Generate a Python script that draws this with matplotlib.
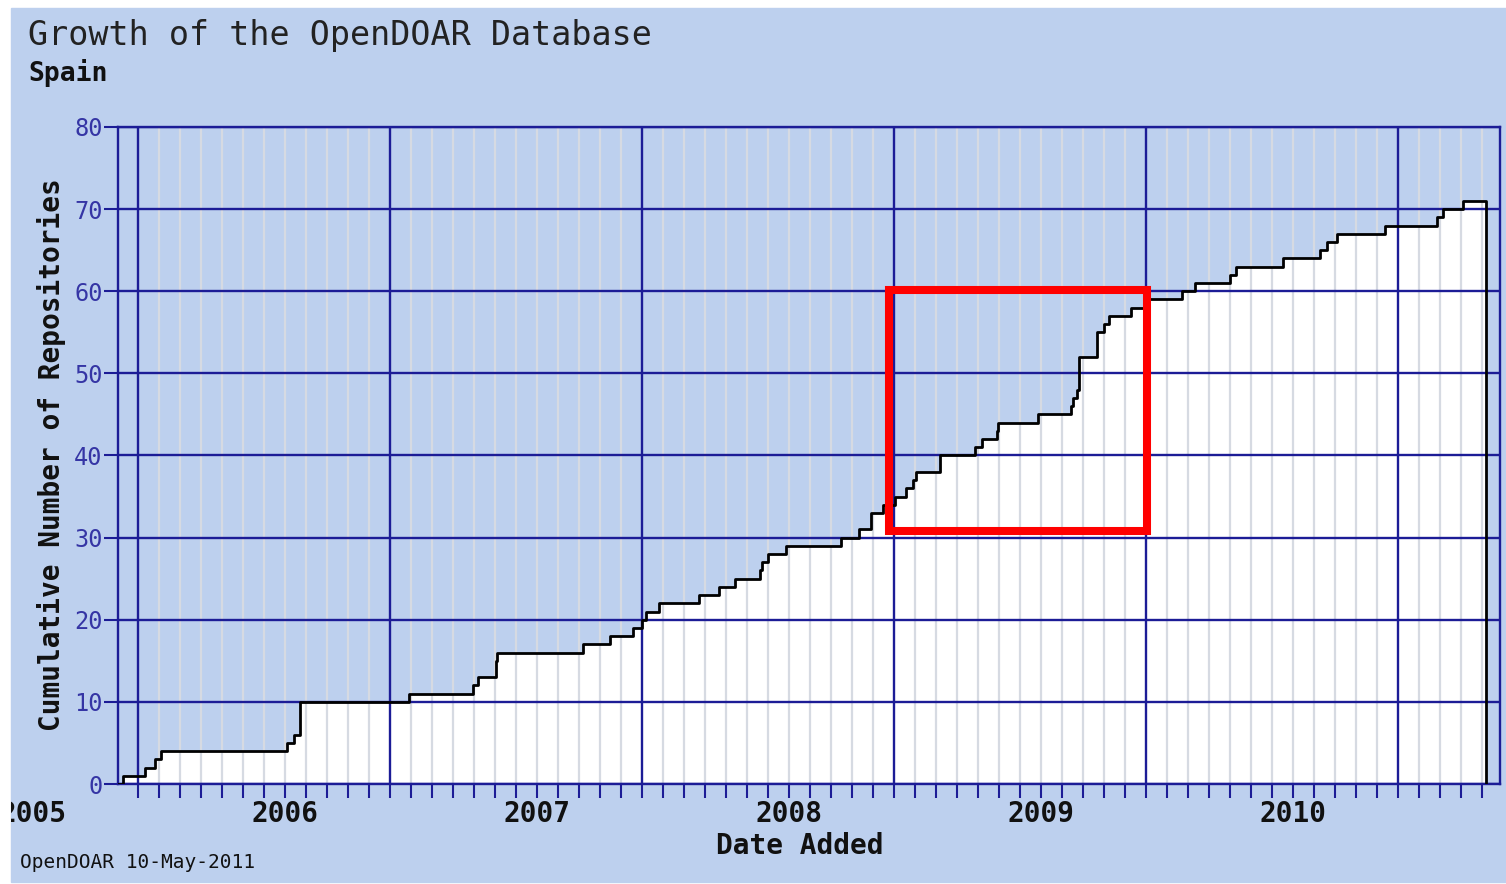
import matplotlib
matplotlib.use('Agg')
import matplotlib.pyplot as plt
import matplotlib.patches as mpatches
import matplotlib.transforms as mtransforms

plt.rcParams['font.family'] = 'DejaVu Sans Mono'

# months counted from Jan 2005, value = cumulative repositories after the step
step_month = [4.27, 5.33, 5.81, 6.10, 12.08, 12.45, 12.71, 17.92, 20.97, 21.17,
              22.05, 22.10, 26.20, 27.50, 28.59, 28.98, 29.19, 29.82, 31.73, 32.68,
              33.43, 34.62, 34.70, 35.00, 35.84, 38.50, 39.35, 39.90, 40.49, 41.05,
              41.57, 41.92, 42.05, 43.20, 44.86, 45.17, 45.89, 45.97, 47.87, 49.43,
              49.54, 49.70, 49.80, 50.68, 51.00, 51.25, 52.27, 53.10, 54.70, 55.33,
              57.00, 57.30, 59.50, 61.30, 61.60, 62.08, 64.38, 66.87, 67.13, 68.11]
step_count = [1, 2, 3, 4, 5, 6, 10, 11, 12, 13,
              15, 16, 17, 18, 19, 20, 21, 22, 23, 24,
              25, 26, 27, 28, 29, 30, 31, 33, 34, 35,
              36, 37, 38, 40, 41, 42, 43, 44, 45, 46,
              47, 48, 52, 55, 56, 57, 58, 59, 60, 61,
              62, 63, 64, 65, 66, 67, 68, 69, 70, 71]
end_month = 69.19

year_labels = ['2005', '2006', '2007', '2008', '2009', '2010']
year_month = [0, 12, 24, 36, 48, 60]
major_month = [5, 17, 29, 41, 53, 65]
y_ticks = [0, 10, 20, 30, 40, 50, 60, 70, 80]

# highlighted region (red box)
box_x = [40.76, 53.07]
box_y = [30.8, 60.15]

bg = '#BDD0EE'
navy = '#1C1C96'

fig = plt.figure(figsize=(15.06, 8.84), dpi=100, facecolor='white')
panel = mpatches.Rectangle((11/1506, 2/884), 1, 1 - 10/884,
                           transform=fig.transFigure, color=bg, zorder=-10)
fig.patches.append(panel)
panel_box = mtransforms.TransformedBbox(
    mtransforms.Bbox.from_bounds(11/1506, 2/884, 1, 1 - 10/884), fig.transFigure)

ax = fig.add_axes([118/1506, 1 - 784/884, (1500 - 118)/1506, (784 - 127)/884])
ax.set_facecolor(bg)
ax.set_xlim(4.048, 69.857)
ax.set_ylim(0, 80)

xs = [4.048] + step_month + [end_month]
ys = [0] + step_count + [0]
ax.fill_between(xs, ys, step='post', color='white', zorder=1, lw=0)

# grid
minor_month = [m for m in range(5, 70) if m not in major_month]
ax.vlines(minor_month, 0, 80, color='#D6DAE2', lw=1.6, zorder=1.5)
ax.vlines(major_month, 0, 80, color=navy, lw=1.7, zorder=2)
ax.hlines(y_ticks, 4.048, 69.857, color=navy, lw=1.7, zorder=2)

ax.step(xs, ys, where='post', color='black', lw=2.0, zorder=4)

ax.add_patch(mpatches.Rectangle((box_x[0], box_y[0]), box_x[1] - box_x[0], box_y[1] - box_y[0],
                                fill=False, edgecolor='#FF0000', lw=5.8, zorder=5, clip_on=False))

for s in ax.spines.values():
    s.set_color(navy)
    s.set_linewidth(1.7)
    s.set_zorder(3)

ax.set_xticks(major_month)
ax.set_xticks(list(range(5, 70)), minor=True)
ax.set_xticklabels([])
ax.tick_params(axis='x', which='both', direction='out', length=10, width=1.5, color=navy)
ax.set_yticks(y_ticks)
ax.set_yticklabels([str(v) for v in y_ticks], fontsize=17, color='#3535A5')
ax.tick_params(axis='y', direction='out', length=10, width=1.5, color=navy, pad=1)

trans = mtransforms.blended_transform_factory(ax.transData, ax.transAxes)
for m, lab in zip(year_month, year_labels):
    t = ax.text(m, -0.045, lab, transform=trans, ha='center', va='center', fontsize=20,
                fontweight='bold', color='#111111')
    t.set_clip_box(panel_box)
    t.set_clip_on(True)

fig.text(800/1506, 1 - 846/884, 'Date Added', ha='center', va='center', fontsize=20,
         fontweight='bold', color='#111111')
fig.text(52/1506, 1 - 455/884, 'Cumulative Number of Repositories', rotation=90,
         ha='center', va='center', fontsize=20, fontweight='bold', color='#111111')
fig.text(28/1506, 1 - 36/884, 'Growth of the OpenDOAR Database', ha='left', va='center',
         fontsize=24, color='#222222')
fig.text(28/1506, 1 - 73/884, 'Spain', ha='left', va='center', fontsize=19,
         fontweight='bold', color='#111111')
fig.text(20/1506, 1 - 863/884, 'OpenDOAR 10-May-2011', ha='left', va='center',
         fontsize=14, color='#111111')

fig.savefig('out.png', dpi=100, facecolor=fig.get_facecolor())
